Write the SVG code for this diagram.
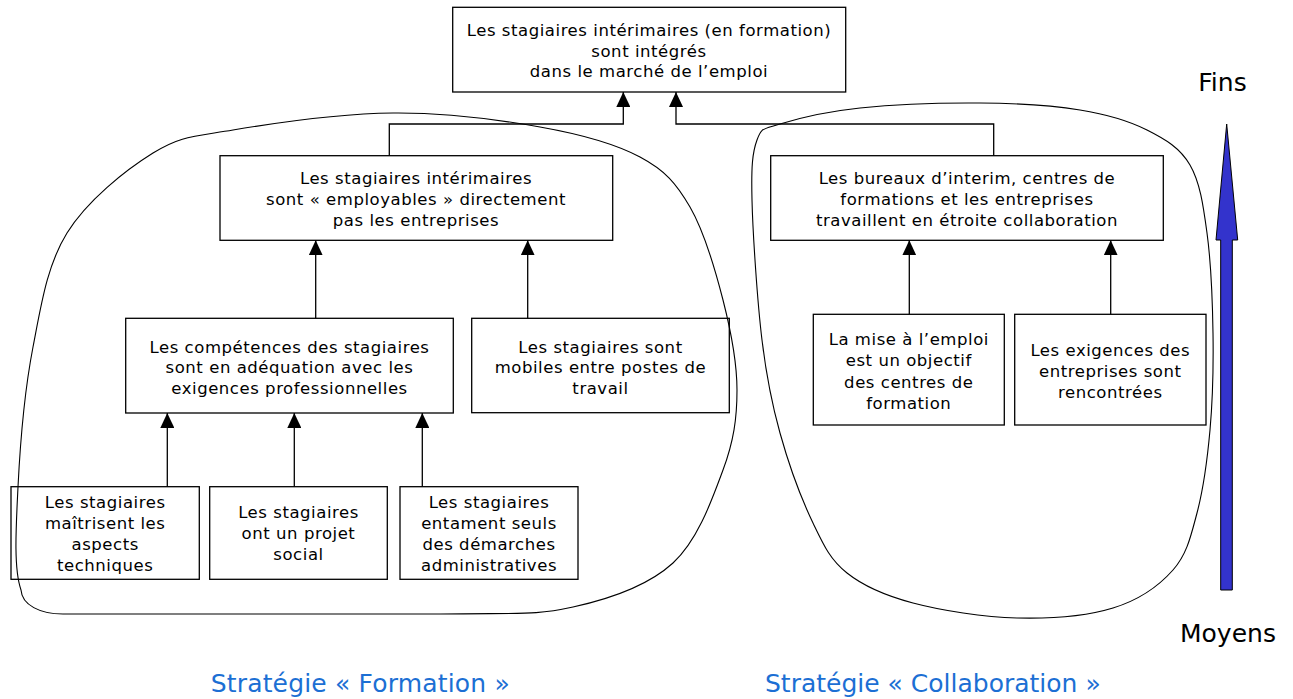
<svg xmlns="http://www.w3.org/2000/svg" width="1293" height="699" viewBox="0 0 1293 699">
<style>
.box{fill:none;stroke:#000;stroke-width:1.3}
.t{font-family:"DejaVu Sans",Verdana,sans-serif;font-size:16.5px;letter-spacing:0.55px;fill:#000;text-anchor:middle}
.con{fill:none;stroke:#000;stroke-width:1.3}
.blob{fill:none;stroke:#000;stroke-width:1.1}
.big{font-family:"DejaVu Sans",Verdana,sans-serif;font-size:25px;fill:#000}
.strat{font-family:"DejaVu Sans",Verdana,sans-serif;font-size:25px;fill:#1c6fd4}
</style>
<defs>
<marker id="ah" markerUnits="userSpaceOnUse" viewBox="0 0 15 14" markerWidth="15" markerHeight="14" refX="15" refY="7" orient="auto">
<path d="M0,0 L15,7 L0,14 z" fill="#000"/>
</marker>
</defs>
<rect width="1293" height="699" fill="#fff"/>

<g id="n-top">
<rect class="box" x="452.7" y="7.3" width="393" height="84.7"/>
<text class="t" x="649"><tspan x="649" y="36">Les stagiaires intérimaires (en formation)</tspan><tspan x="649" y="56.7">sont intégrés</tspan><tspan x="649" y="77.3">dans le marché de l’emploi</tspan></text>
</g>
<g id="n-employables">
<rect class="box" x="220" y="155.7" width="392.7" height="84.6"/>
<text class="t"><tspan x="416" y="184.3">Les stagiaires intérimaires</tspan><tspan x="416" y="205">sont « employables » directement</tspan><tspan x="416" y="225.7">pas les entreprises</tspan></text>
</g>
<g id="n-bureaux">
<rect class="box" x="770.7" y="155.7" width="392.6" height="84.6"/>
<text class="t"><tspan x="967" y="184.3">Les bureaux d’interim, centres de</tspan><tspan x="967" y="205">formations et les entreprises</tspan><tspan x="967" y="225.7">travaillent en étroite collaboration</tspan></text>
</g>
<g id="n-competences">
<rect class="box" x="125.7" y="318.3" width="327.6" height="94.7"/>
<text class="t"><tspan x="289.5" y="352.7">Les compétences des stagiaires</tspan><tspan x="289.5" y="373.3">sont en adéquation avec les</tspan><tspan x="289.5" y="394.3">exigences professionnelles</tspan></text>
</g>
<g id="n-mobiles">
<rect class="box" x="471.7" y="318.3" width="257.6" height="94.4"/>
<text class="t"><tspan x="600.5" y="352.7">Les stagiaires sont</tspan><tspan x="600.5" y="373.3">mobiles entre postes de</tspan><tspan x="600.5" y="394.3">travail</tspan></text>
</g>
<g id="n-mise">
<rect class="box" x="813.3" y="314.3" width="191" height="110.7"/>
<text class="t"><tspan x="908.8" y="345">La mise à l’emploi</tspan><tspan x="908.8" y="366.3">est un objectif</tspan><tspan x="908.8" y="387.5">des centres de</tspan><tspan x="908.8" y="408.5">formation</tspan></text>
</g>
<g id="n-exigences">
<rect class="box" x="1014.7" y="314.3" width="191.3" height="110.7"/>
<text class="t"><tspan x="1110.3" y="356">Les exigences des</tspan><tspan x="1110.3" y="376.8">entreprises sont</tspan><tspan x="1110.3" y="397.5">rencontrées</tspan></text>
</g>
<g id="n-techniques">
<rect class="box" x="11" y="486.7" width="188.3" height="92.6"/>
<text class="t"><tspan x="105.2" y="507.5">Les stagiaires</tspan><tspan x="105.2" y="528.5">maîtrisent les</tspan><tspan x="105.2" y="549.5">aspects</tspan><tspan x="105.2" y="570.5">techniques</tspan></text>
</g>
<g id="n-projet">
<rect class="box" x="209.7" y="486.7" width="177.6" height="92.6"/>
<text class="t"><tspan x="298.5" y="518.3">Les stagiaires</tspan><tspan x="298.5" y="539.3">ont un projet</tspan><tspan x="298.5" y="560">social</tspan></text>
</g>
<g id="n-demarches">
<rect class="box" x="400" y="486.7" width="178" height="92.6"/>
<text class="t"><tspan x="489" y="507.5">Les stagiaires</tspan><tspan x="489" y="528.5">entament seuls</tspan><tspan x="489" y="549.5">des démarches</tspan><tspan x="489" y="570.5">administratives</tspan></text>
</g>

<g id="connectors">
<path class="con" d="M389.3,155.7 V124 H623.3 V92" marker-end="url(#ah)"/>
<path class="con" d="M993.7,155.7 V124 H676 V92" marker-end="url(#ah)"/>
<path class="con" d="M315.7,318.3 V240.3" marker-end="url(#ah)"/>
<path class="con" d="M527.7,318.3 V240.3" marker-end="url(#ah)"/>
<path class="con" d="M909.3,314.3 V240.3" marker-end="url(#ah)"/>
<path class="con" d="M1110.7,314.3 V240.3" marker-end="url(#ah)"/>
<path class="con" d="M167.3,486.7 V413" marker-end="url(#ah)"/>
<path class="con" d="M294.3,486.7 V413" marker-end="url(#ah)"/>
<path class="con" d="M422.3,486.7 V413" marker-end="url(#ah)"/>
</g>

<g id="groupings">
<path class="blob" d="M393,113 C444.2,112.5 498.8,119.7 540,127 C581.2,134.3 615,143.7 640,157 C665,170.3 676.2,183.2 690,207 C703.8,230.8 715.2,269.5 723,300 C730.8,330.5 737,361.7 737,390 C737,418.3 733.7,441.2 723,470 C712.3,498.8 698,540.2 673,563 C648,585.8 611.8,598.5 573,607 C534.2,615.5 525,612.8 440,614 L63,614 C40,614 22,605 21,590 C13.5,568.8 16,527.5 18,487 C20,446.5 24.8,389.3 33,347 C41.2,304.7 47,265.3 67,233 C87,200.7 125.3,170.2 153,153 C180.7,135.8 193,136.7 233,130 C273,123.3 341.8,113.5 393,113 Z"/>
<path class="blob" d="M980,103 C1016.7,103.3 1052.2,105.5 1080,110 C1107.8,114.5 1128.7,120.8 1147,130 C1165.3,139.2 1180,147.8 1190,165 C1200,182.2 1203.2,205 1207,233 C1210.8,261 1212.5,300.2 1213,333 C1213.5,365.8 1212.7,400 1210,430 C1207.3,460 1203.2,489.7 1197,513 C1190.8,536.3 1187,554.2 1173,570 C1159,585.8 1139,600 1113,608 C1087,616 1050.3,618.8 1017,618 C983.7,617.2 941.3,610.5 913,603 C884.7,595.5 863.7,586.3 847,573 C830.3,559.7 824.2,546.3 813,523 C801.8,499.7 788.5,463.5 780,433 C771.5,402.5 766.7,378.8 762,340 C757.3,301.2 752.8,233.3 752,200 C751.2,166.7 752.3,152.7 757,140 C761.7,127.3 762.8,129.3 780,124 C797.2,118.7 826.7,111.5 860,108 C893.3,104.5 943.3,102.7 980,103 Z"/>
</g>

<g id="scale">
<polygon points="1226.7,124 1237.7,240 1232.3,240 1232.3,590 1220.7,590 1220.7,240 1216,240" fill="#3333cc" stroke="#000" stroke-width="1"/>
<text class="big" x="1198.3" y="90.7">Fins</text>
<text class="big" x="1180" y="641.7">Moyens</text>
</g>

<g id="labels">
<text class="strat" x="210.7" y="691.7" letter-spacing="0.17">Stratégie « Formation »</text>
<text class="strat" x="765" y="691.7">Stratégie « Collaboration »</text>
</g>
</svg>
